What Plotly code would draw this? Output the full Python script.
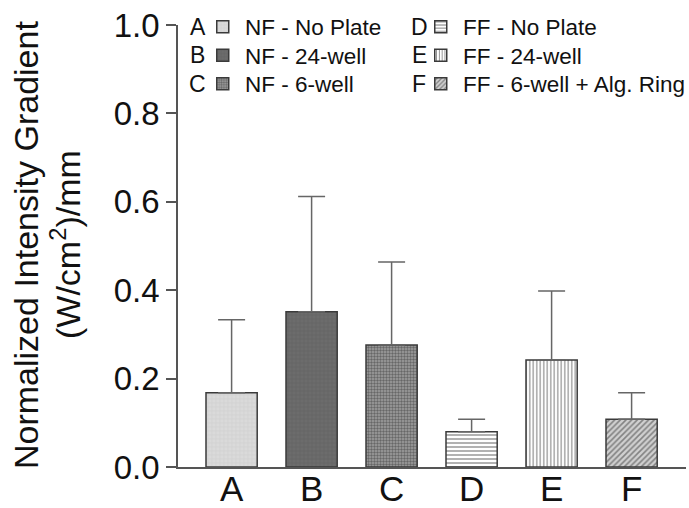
import plotly.graph_objects as go

# Measured intensity gradients per plate configuration
categories = ["A", "B", "C", "D", "E", "F"]
values = [0.168, 0.351, 0.276, 0.080, 0.242, 0.108]
err_upper = [0.333, 0.612, 0.464, 0.108, 0.398, 0.168]
labels = [
    "NF - No Plate",
    "NF - 24-well",
    "NF - 6-well",
    "FF - No Plate",
    "FF - 24-well",
    "FF - 6-well + Alg. Ring",
]
y_ticks = [0.0, 0.2, 0.4, 0.6, 0.8, 1.0]

FONT = "Liberation Sans, Arial, Helvetica, sans-serif"

# fill styles for each bar
styles = [
    dict(shape="+", bgcolor="#dadada", fgcolor="#c6c6c6", size=4, solidity=0.3),
    dict(shape="+", bgcolor="#6c6c6c", fgcolor="#5c5c5c", size=4, solidity=0.3),
    dict(shape=".", bgcolor="#a0a0a0", fgcolor="#2e2e2e", size=3, solidity=0.5),
    dict(shape="-", bgcolor="#ffffff", fgcolor="#222222", size=4, solidity=0.35),
    dict(shape="|", bgcolor="#ffffff", fgcolor="#222222", size=3.5, solidity=0.35),
    dict(shape="/", bgcolor="#d0d0d0", fgcolor="#333333", size=4, solidity=0.4),
]

# plot area in pixels (for placing text outside the data)
W, H = 689, 508
L, R, T, B = 178, 3, 25, 41
PW, PH = W - L - R, H - T - B


def px_x(x):
    return (x - L) / PW


def px_y(y):
    return (H - B - y) / PH


# key layout: two columns of three rows
rows_y = [27, 55.5, 84]
letter_x = [197.5, 419]
legend_left = [200.5, 418.5]

fig = go.Figure()
for i, cat in enumerate(categories):
    fig.add_trace(
        go.Bar(
            x=[cat],
            y=[values[i]],
            name=labels[i],
            width=0.64,
            marker=dict(
                color=styles[i]["bgcolor"],
                pattern=styles[i],
                line=dict(color="#3a3a3a", width=1.5),
            ),
            error_y=dict(
                type="data",
                symmetric=False,
                array=[err_upper[i] - values[i]],
                arrayminus=[0],
                color="#666666",
                thickness=1.5,
                width=13.5,
            ),
            legend="legend" if i == 0 else f"legend{i + 1}",
        )
    )

legends = {}
annotations = []
for i, cat in enumerate(categories):
    col, row = divmod(i, 3)
    key = "legend" if i == 0 else f"legend{i + 1}"
    legends[key] = dict(
        font=dict(family=FONT, size=22.5, color="#111111"),
        bgcolor="rgba(0,0,0,0)",
        borderwidth=0,
        itemwidth=34.5,
        x=px_x(legend_left[col]),
        y=px_y(rows_y[row]),
        xanchor="left",
        yanchor="middle",
    )
    annotations.append(
        dict(
            text=cat,
            x=px_x(letter_x[col]),
            y=px_y(rows_y[row]),
            xref="paper",
            yref="paper",
            showarrow=False,
            xanchor="center",
            yanchor="middle",
            font=dict(family=FONT, size=23, color="#111111"),
        )
    )

# two-line y-axis title
annotations.append(
    dict(
        text="Normalized Intensity Gradient",
        x=px_x(26),
        y=px_y(245),
        xref="paper",
        yref="paper",
        showarrow=False,
        textangle=-90,
        xanchor="center",
        yanchor="middle",
        font=dict(family=FONT, size=34, color="#111111"),
    )
)
annotations.append(
    dict(
        text="(W/cm<sup>2</sup>)/mm",
        x=px_x(65),
        y=px_y(245),
        xref="paper",
        yref="paper",
        showarrow=False,
        textangle=-90,
        xanchor="center",
        yanchor="middle",
        font=dict(family=FONT, size=34, color="#111111"),
    )
)

fig.update_layout(
    width=W,
    height=H,
    margin=dict(l=L, r=R, t=T, b=B, pad=0, autoexpand=False),
    paper_bgcolor="white",
    plot_bgcolor="white",
    barmode="overlay",
    showlegend=True,
    font=dict(family=FONT, color="#111111"),
    annotations=annotations,
    xaxis=dict(
        categoryorder="array",
        categoryarray=categories,
        range=[-0.67, 5.68],
        showline=True,
        linecolor="#555555",
        linewidth=1.5,
        ticks="",
        ticklabelstandoff=-10,
        showgrid=False,
        zeroline=False,
        tickfont=dict(family=FONT, size=35, color="#111111"),
    ),
    yaxis=dict(
        range=[0, 1.0],
        tickvals=y_ticks,
        tickformat=".1f",
        showline=True,
        linecolor="#555555",
        linewidth=1.5,
        ticks="outside",
        ticklen=10,
        tickwidth=1.5,
        tickcolor="#555555",
        showgrid=False,
        zeroline=False,
        tickfont=dict(family=FONT, size=33, color="#111111"),
    ),
    **legends,
)

fig.write_html("out.html")
